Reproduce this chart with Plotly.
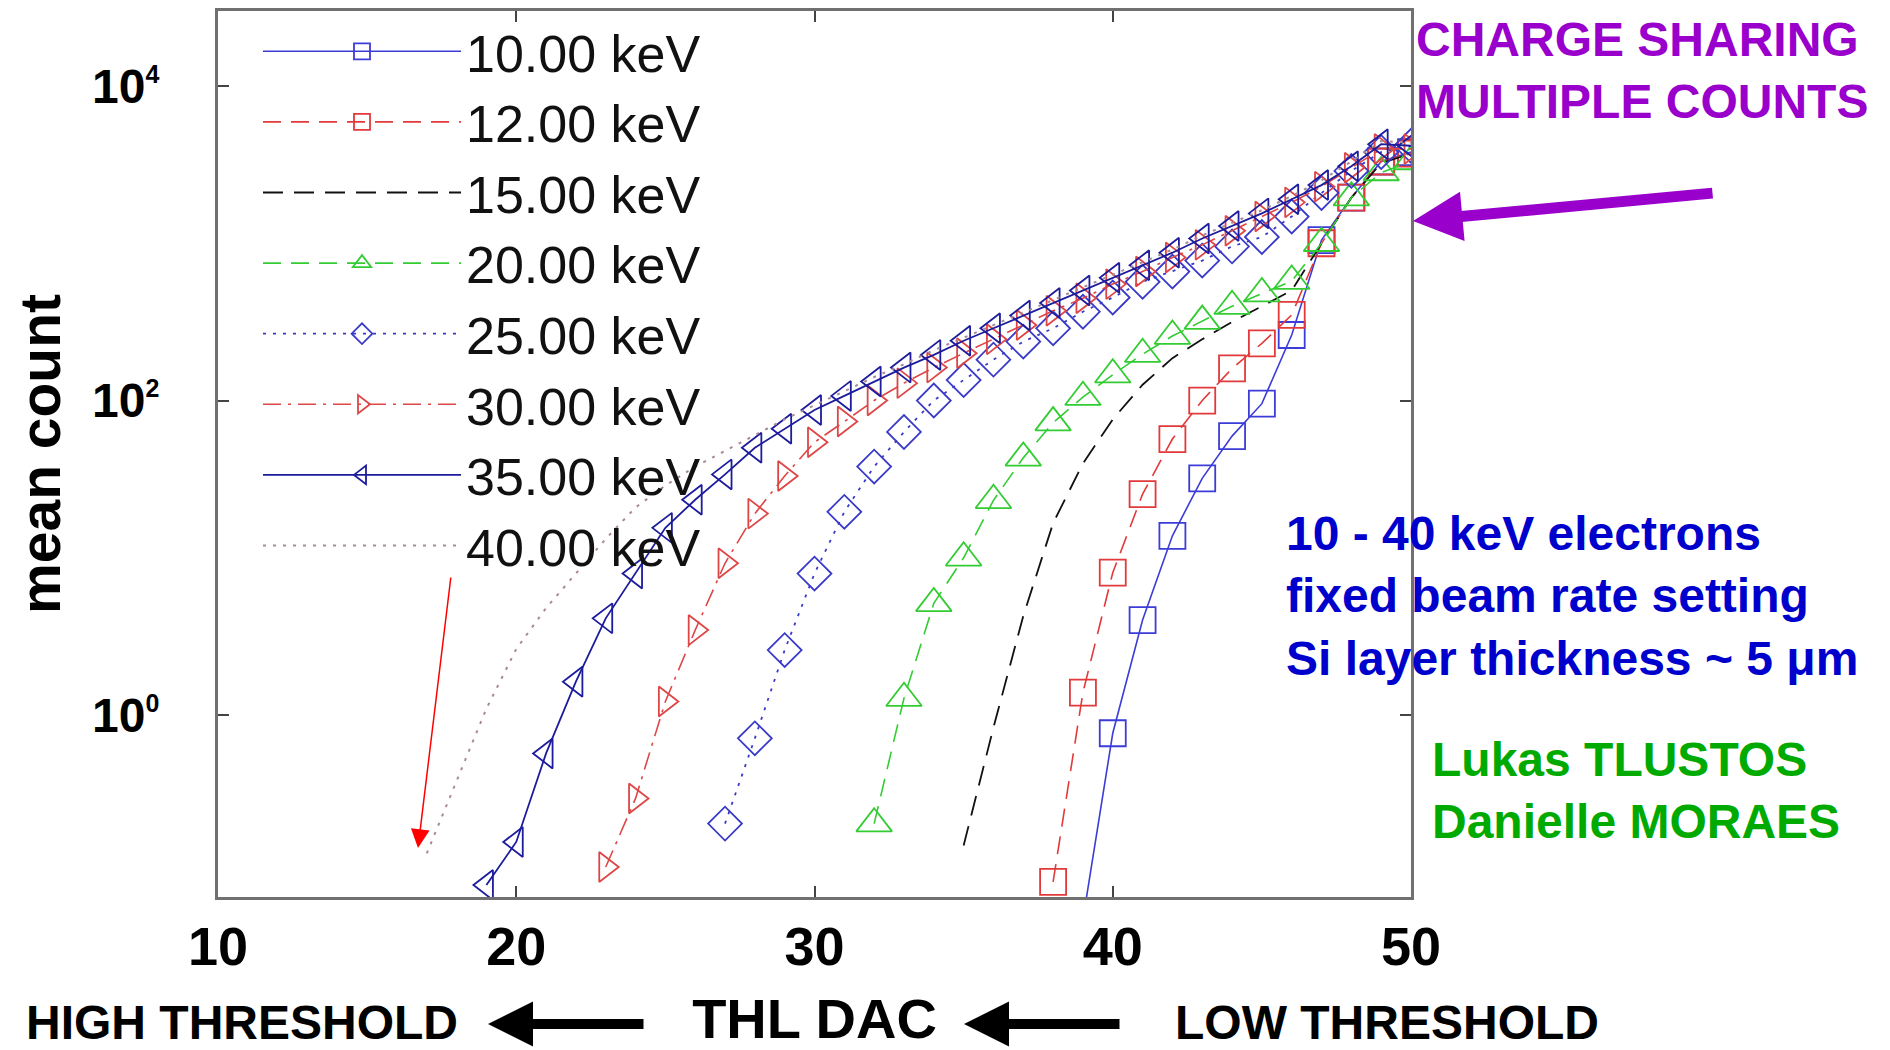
import plotly.graph_objects as go

# ---------------- data ----------------
names = ["10.00 keV", "12.00 keV", "15.00 keV", "20.00 keV",
         "25.00 keV", "30.00 keV", "35.00 keV", "40.00 keV"]

thl_10 = list(range(39, 51))
cnt_10 = [0.05, 0.766, 4.02, 13.8, 32.0, 59.4, 95.5, 261, 1047, 1950, 3311, 3802]

thl_12 = list(range(38, 51))
cnt_12 = [0.087, 1.39, 8.04, 25.4, 56.9, 100, 160, 231, 350, 1000, 1950, 3311, 3715]

thl_15 = list(range(35, 51))
cnt_15 = [0.148, 0.832, 4.27, 16.6, 39.8, 75.9, 126, 186, 245, 316, 398, 501,
          1000, 1950, 3236, 3715]

thl_20 = list(range(32, 51))
cnt_20 = [0.204, 1.28, 5.13, 10.0, 23.2, 43.2, 72.4, 105, 146, 197, 257, 320,
          398, 479, 575, 1000, 1950, 2818, 3311]

thl_25 = list(range(27, 51))
cnt_25 = [0.204, 0.711, 2.59, 7.94, 19.6, 38.0, 63.1, 100, 135, 182, 237, 288,
          367, 452, 569, 661, 776, 955, 1096, 1479, 2089, 2884, 3802, 4169]

thl_30 = list(range(23, 51))
cnt_30 = [0.108, 0.295, 1.22, 3.47, 9.23, 19.1, 33.1, 54.3, 73.5, 100, 129, 162,
          200, 245, 302, 372, 447, 550, 661, 813, 977, 1202, 1479, 1820, 2291,
          3020, 3981, 3981]

thl_35 = list(range(19, 51))
cnt_35 = [0.083, 0.156, 0.570, 1.63, 4.12, 7.94, 15.5, 23.4, 33.9, 50.1, 66.1,
          87.1, 107, 132, 162, 195, 240, 288, 347, 417, 501, 603, 724, 871, 1072,
          1288, 1549, 1905, 2344, 3090, 4266, 4169]

thl_40 = list(range(17, 51))
cnt_40 = [0.132, 0.380, 1.10, 2.63, 4.79, 7.94, 13.2, 20.9, 28.8, 38.0, 47.9,
          60.3, 75.9, 93.3, 115, 141, 170, 209, 251, 302, 363, 437, 525, 631, 759,
          912, 1122, 1349, 1622, 1995, 2512, 3311, 4467, 4365]

x_ticks = [10, 20, 30, 40, 50]
y_ticks = [1, 100, 10000]
y_tick_text = ["10<sup><span style='font-size:25px'>0</span></sup>",
               "10<sup><span style='font-size:25px'>2</span></sup>",
               "10<sup><span style='font-size:25px'>4</span></sup>"]

# ---------------- geometry / styles ----------------
FONT = "Liberation Sans, Arial, Helvetica, sans-serif"
W, H = 1890, 1050
OFF = 8                      # page body margin of the exported html
ML, MT = 210, 3              # plot area: x 210..1403, y 3..889 (figure px)
PW, PH = 1193, 886
MR, MB = W - ML - PW, H - MT - PH

def fx(p):   # target screen pixel x -> paper x
    return (p - OFF - ML) / PW

def fy(p):   # target screen pixel y -> paper y
    return (MT + PH - (p - OFF)) / PH

styles = [
    # color, dash, symbol, marker size, line width
    ("#3c3cd8", "solid", "square-open", 26, 1.6),
    ("#e23a3a", "18px,10px", "square-open", 26, 1.6),
    ("#111111", "20px,11px", None, 0, 1.8),
    ("#33cc33", "18px,10px", "triangle-up-open", 31, 1.6),
    ("#3a3ac8", "3px,7px", "diamond-open", 26, 1.8),
    ("#de4646", "18px,7px,3px,7px", "triangle-right-open", 26, 1.6),
    ("#1c1c9c", "solid", "triangle-left-open", 26, 1.8),
    ("#a88a96", "3px,7px", None, 0, 2.0),
]

xs = [thl_10, thl_12, thl_15, thl_20, thl_25, thl_30, thl_35, thl_40]
ys = [cnt_10, cnt_12, cnt_15, cnt_20, cnt_25, cnt_30, cnt_35, cnt_40]

fig = go.Figure()
for name, x, y, (col, dash, sym, msz, lw) in zip(names, xs, ys, styles):
    if sym:
        fig.add_trace(go.Scatter(
            x=x, y=y, name=name, mode="lines+markers",
            line=dict(color=col, width=lw, dash=dash),
            marker=dict(symbol=sym, size=msz, color=col,
                        line=dict(color=col, width=1.8)),
        ))
    else:
        fig.add_trace(go.Scatter(
            x=x, y=y, name=name, mode="lines",
            line=dict(color=col, width=lw, dash=dash),
        ))

axis_common = dict(
    showgrid=False, zeroline=False, showline=True, linecolor="#707070",
    linewidth=3, mirror="ticks", ticks="inside", ticklen=11, tickwidth=2,
    tickcolor="#444444", automargin=False,
)

fig.update_xaxes(
    range=[10, 50], tickvals=x_ticks, ticklabelstandoff=0,
    tickfont=dict(family=FONT, size=54, color="black", weight="bold"),
    title=dict(text="THL DAC", standoff=25,
               font=dict(family=FONT, size=56, color="black", weight="bold")),
    **axis_common,
)
fig.update_yaxes(
    type="log", range=[-1.157, 4.477], tickvals=y_ticks, ticktext=y_tick_text,
    ticklabelstandoff=46,
    tickfont=dict(family=FONT, size=48, color="black", weight="bold"),
    title=dict(text="mean count", standoff=29,
               font=dict(family=FONT, size=57, color="black", weight="bold")),
    **axis_common,
)

annotations = [
    dict(text="CHARGE SHARING<br>MULTIPLE COUNTS", x=fx(1414), y=fy(70),
         xanchor="left", yanchor="middle", align="left",
         font=dict(family=FONT, size=48, color="#9900cc", weight="bold")),
    dict(text="10 - 40 keV electrons<br>fixed beam rate setting<br>Si layer thickness ~ 5 \u03bcm",
         x=fx(1284), y=fy(596), xanchor="left", yanchor="middle", align="left",
         font=dict(family=FONT, size=48, color="#0000cc", weight="bold")),
    dict(text="Lukas TLUSTOS<br>Danielle MORAES", x=fx(1430), y=fy(790),
         xanchor="left", yanchor="middle", align="left",
         font=dict(family=FONT, size=48, color="#00aa00", weight="bold")),
    dict(text="HIGH THRESHOLD", x=fx(24), y=fy(1022), xanchor="left", yanchor="middle",
         font=dict(family=FONT, size=48, color="black", weight="bold")),
    dict(text="LOW THRESHOLD", x=fx(1173), y=fy(1022), xanchor="left", yanchor="middle",
         font=dict(family=FONT, size=48, color="black", weight="bold")),
]
for a in annotations:
    a.update(xref="paper", yref="paper", showarrow=False)

arrows = [
    # tip_x, tip_y, dx, dy, color, width, head, size
    (1413, 221, 301, -28, "#9900cc", 11, 2, 0.9),
    (418, 848, 33, -272, "#ff0000", 1.5, 2, 2.5),
    (488, 1024, 157, 0, "black", 10, 2, 0.9),
    (964, 1024, 157, 0, "black", 10, 2, 0.9),
]
for tx, ty, dx, dy, col, wdt, head, sz in arrows:
    annotations.append(dict(
        text="", x=fx(tx), y=fy(ty), xref="paper", yref="paper",
        showarrow=True, ax=dx, ay=dy, arrowcolor=col, arrowwidth=wdt,
        arrowhead=head, arrowsize=sz, standoff=0,
    ))

fig.update_layout(
    width=W, height=H,
    margin=dict(l=ML, r=MR, t=MT, b=MB, autoexpand=False),
    paper_bgcolor="white", plot_bgcolor="white",
    font=dict(family=FONT, color="black"),
    showlegend=True,
    legend=dict(
        x=fx(258), y=1.0, xanchor="left", yanchor="top",
        bgcolor="rgba(0,0,0,0)", borderwidth=0, itemwidth=198,
        font=dict(family=FONT, size=52, color="#111111"),
    ),
    annotations=annotations,
)

fig.write_html("out.html")
